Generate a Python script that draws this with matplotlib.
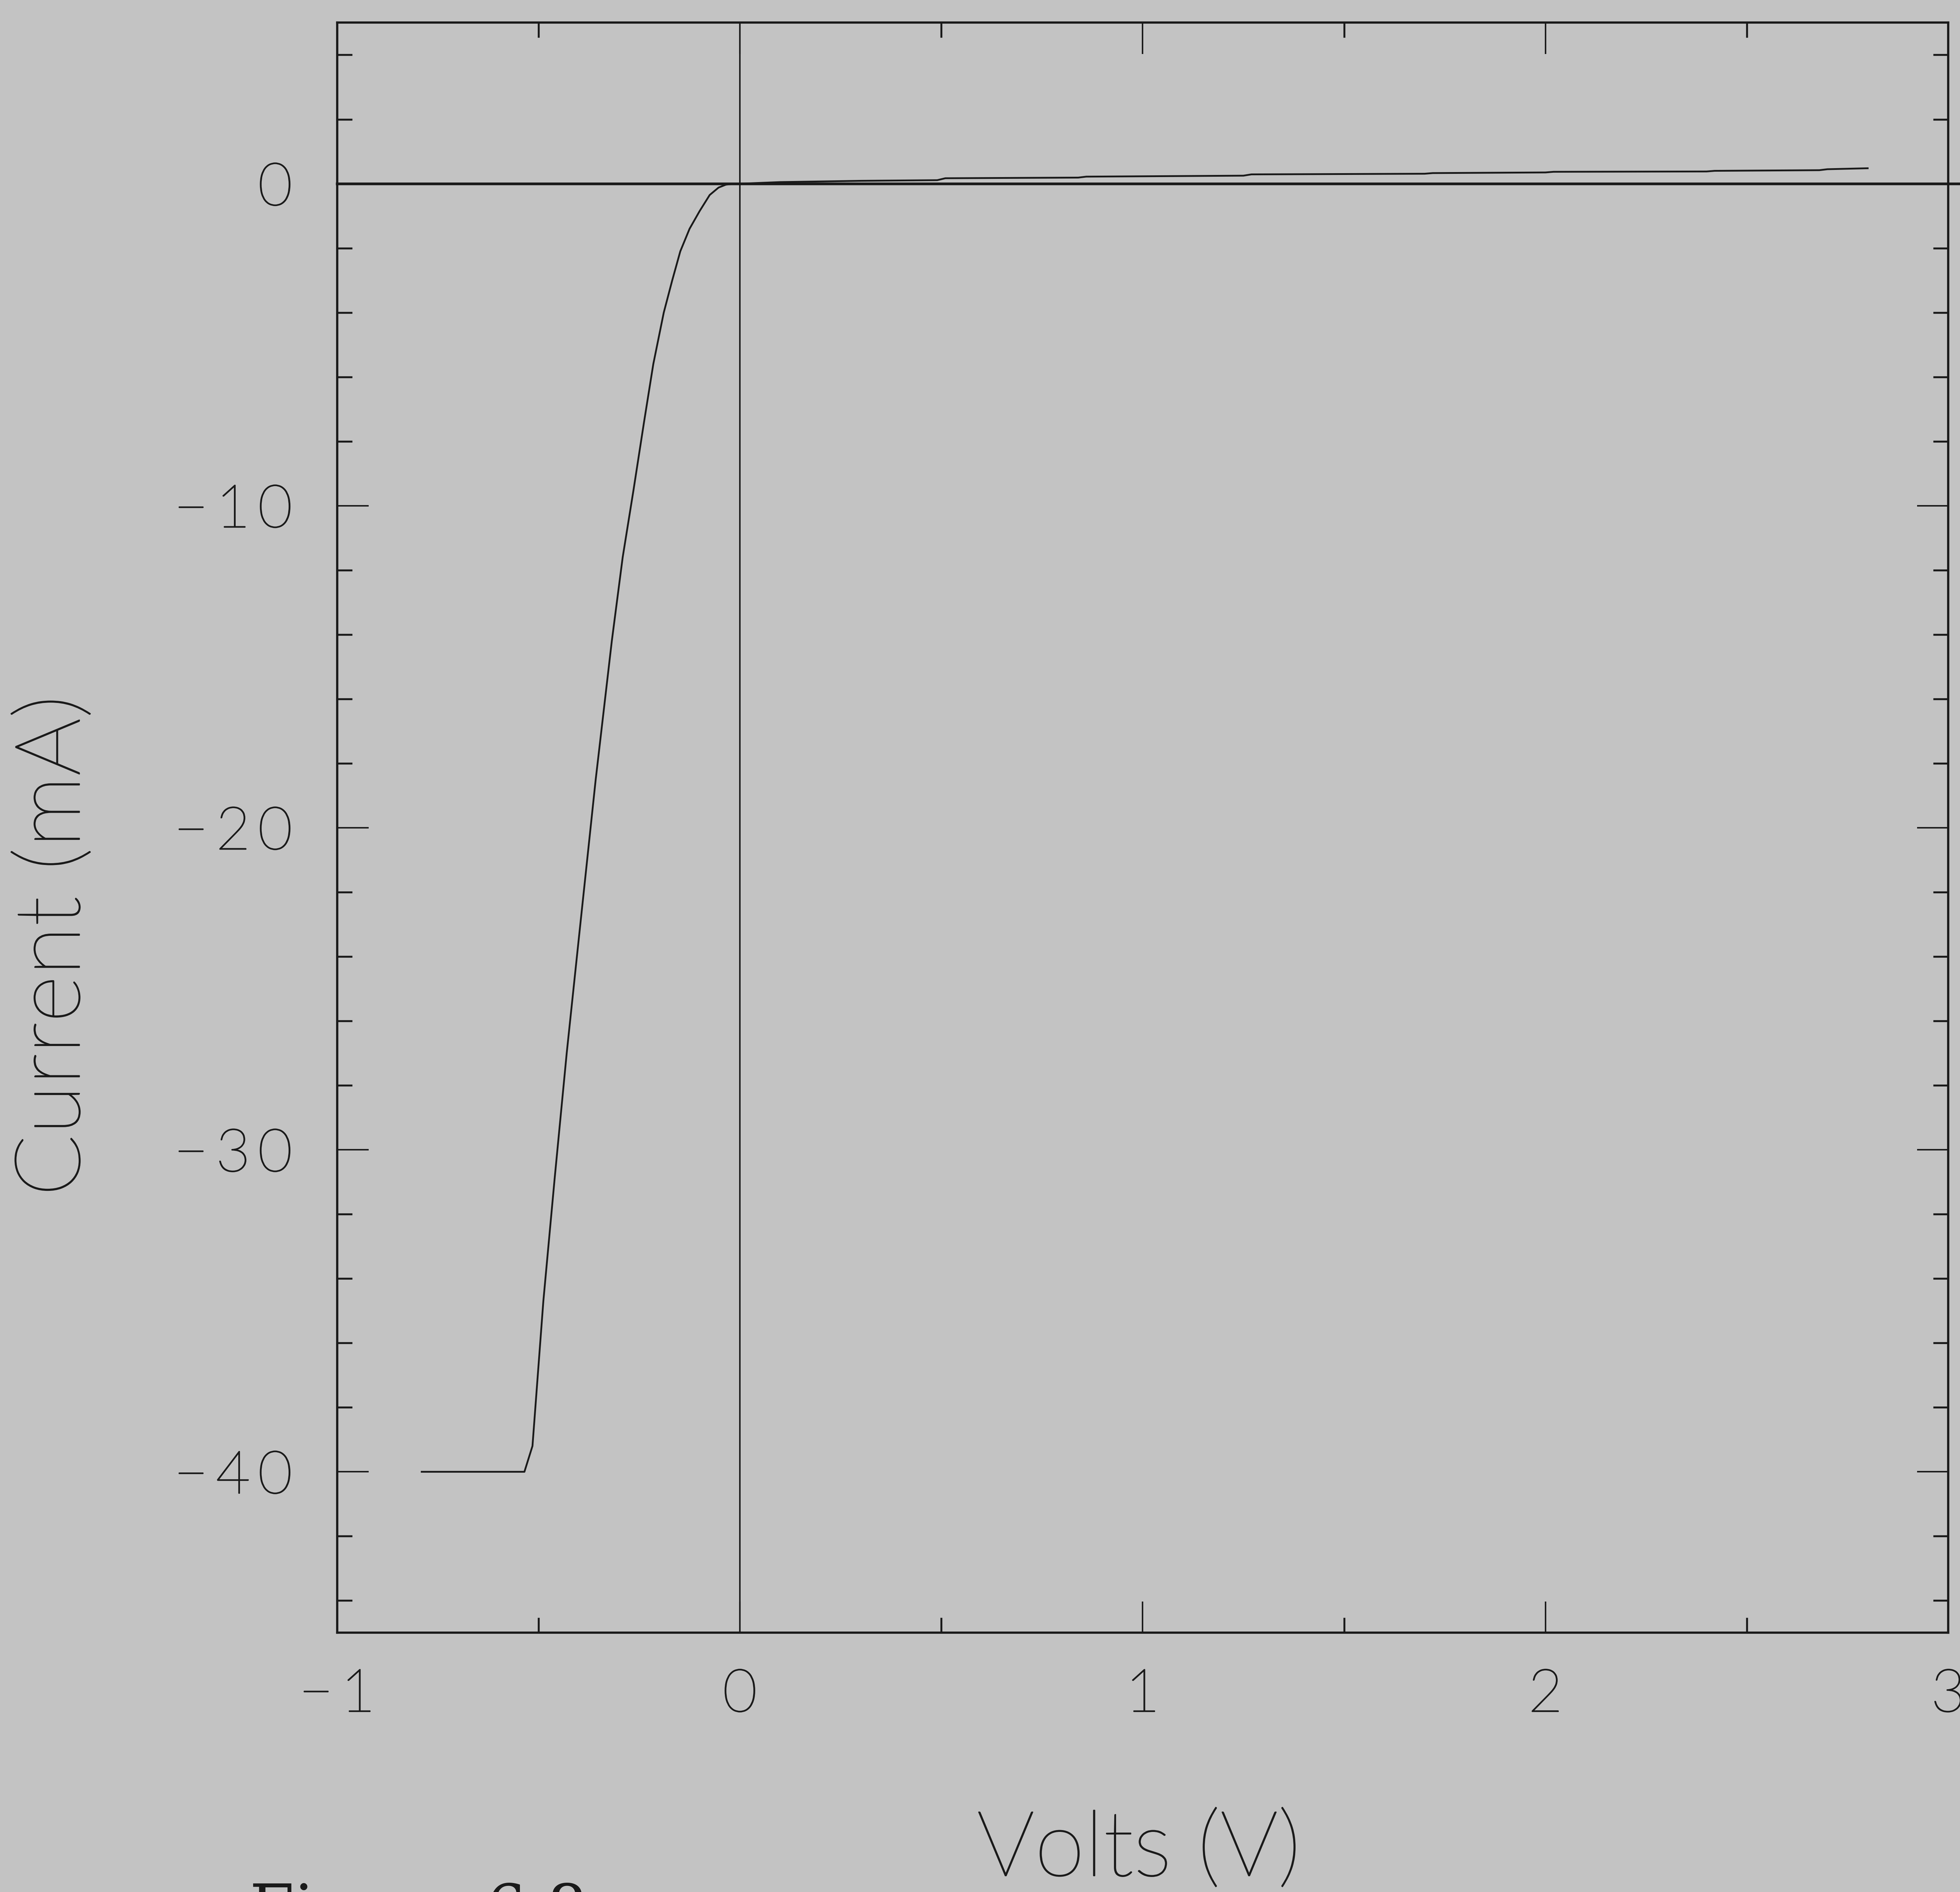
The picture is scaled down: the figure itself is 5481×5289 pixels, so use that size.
import numpy as np
import matplotlib
matplotlib.use("Agg")
import matplotlib.pyplot as plt
import matplotlib.transforms as mtransforms
import matplotlib.patheffects as pe

# ============================================
# Data
# ============================================
# reverse branch (volts, mA)
volts_rev = [-0.79, -0.535, -0.515, -0.488, -0.460, -0.430, -0.403, -0.358,
             -0.318, -0.291, -0.264, -0.238, -0.215, -0.189, -0.168, -0.148,
             -0.125, -0.100, -0.075, -0.053, -0.035, -0.015, 0.0]
current_rev = [-40.0, -40.0, -39.2, -34.7, -30.9, -27.0, -23.8, -18.5,
               -14.2, -11.6, -9.5, -7.4, -5.6, -4.0, -3.0, -2.1,
               -1.4, -0.85, -0.35, -0.12, -0.03, 0.0, 0.0]

# forward branch (volts, mA) - small, stepped leakage current
volts_fwd = [0.0, 0.1, 0.3, 0.49, 0.51, 0.84, 0.86, 1.25, 1.27, 1.70,
             1.72, 2.0, 2.02, 2.4, 2.42, 2.68, 2.70, 2.80]
current_fwd = [0.0, 0.05, 0.09, 0.11, 0.17, 0.19, 0.22, 0.25, 0.29, 0.31,
               0.33, 0.35, 0.37, 0.38, 0.40, 0.42, 0.45, 0.48]

x_major = [-1, 0, 1, 2, 3]
y_major = [0, -10, -20, -30, -40]


def spaced(v):
    # wide plotter-style spacing between the characters
    return "\u2009".join(str(v).replace("-", "\u2212"))


# ============================================
# Figure setup
# ============================================
bg = "#c3c3c3"
ink = "#1a1a1a"
plt.rcParams["font.family"] = ["Lato", "DejaVu Sans"]
plt.rcParams["font.weight"] = "light"

# thicken the light strokes a bit, like the plotter pen
pen = [pe.withStroke(linewidth=0.7, foreground=ink)]

fig = plt.figure(figsize=(5481 / 300, 5289 / 300), dpi=300, facecolor=bg)
ax = fig.add_axes([0.172, 0.137, 0.822, 0.851])
ax.set_facecolor(bg)

# curve
ax.plot(volts_rev + volts_fwd[1:], current_rev + current_fwd[1:],
        color=ink, lw=1.2)

# zero lines (horizontal one runs past the right frame)
ax.axvline(0, color=ink, lw=1.0)
trans = mtransforms.blended_transform_factory(ax.transAxes, ax.transData)
ax.plot([0, 1.03], [0, 0], color=ink, lw=1.8, transform=trans,
        clip_on=False)

ax.set_xlim(-1, 3)
ax.set_ylim(-45, 5)

ax.set_xticks(x_major)
ax.set_xticklabels([spaced(v) for v in x_major])
ax.set_yticks(y_major)
ax.set_yticklabels([spaced(v) for v in y_major])
ax.set_xticks(np.arange(-0.5, 3, 1.0), minor=True)
ax.set_yticks(np.arange(-44, 5, 2), minor=True)

ax.tick_params(which="both", direction="in", top=True, right=True,
               color=ink)
ax.tick_params(which="major", length=21, width=1.0, labelsize=40,
               labelcolor=ink)
ax.tick_params(which="minor", length=10, width=1.3)
ax.tick_params(axis="x", which="major", pad=24)
ax.tick_params(axis="y", which="major", pad=30)

for lab in ax.get_xticklabels() + ax.get_yticklabels():
    lab.set_path_effects(pen)

for s in ax.spines.values():
    s.set_linewidth(1.5)
    s.set_color(ink)

fig.text(0.581, 0.0086, "Volts (V)", ha="center", va="baseline",
         fontsize=61, color=ink, path_effects=pen)
fig.text(0.028, 0.50, "Current (mA)", ha="center", va="center",
         rotation=90, fontsize=61, color=ink, path_effects=pen)

# caption of the scanned page, cut off at the bottom edge
fig.text(0.1274, -0.0202, "Figure 6.8", ha="left", va="baseline",
         fontsize=43, family="DejaVu Serif", color=ink)

fig.savefig("out.png", dpi=300, facecolor=bg)
